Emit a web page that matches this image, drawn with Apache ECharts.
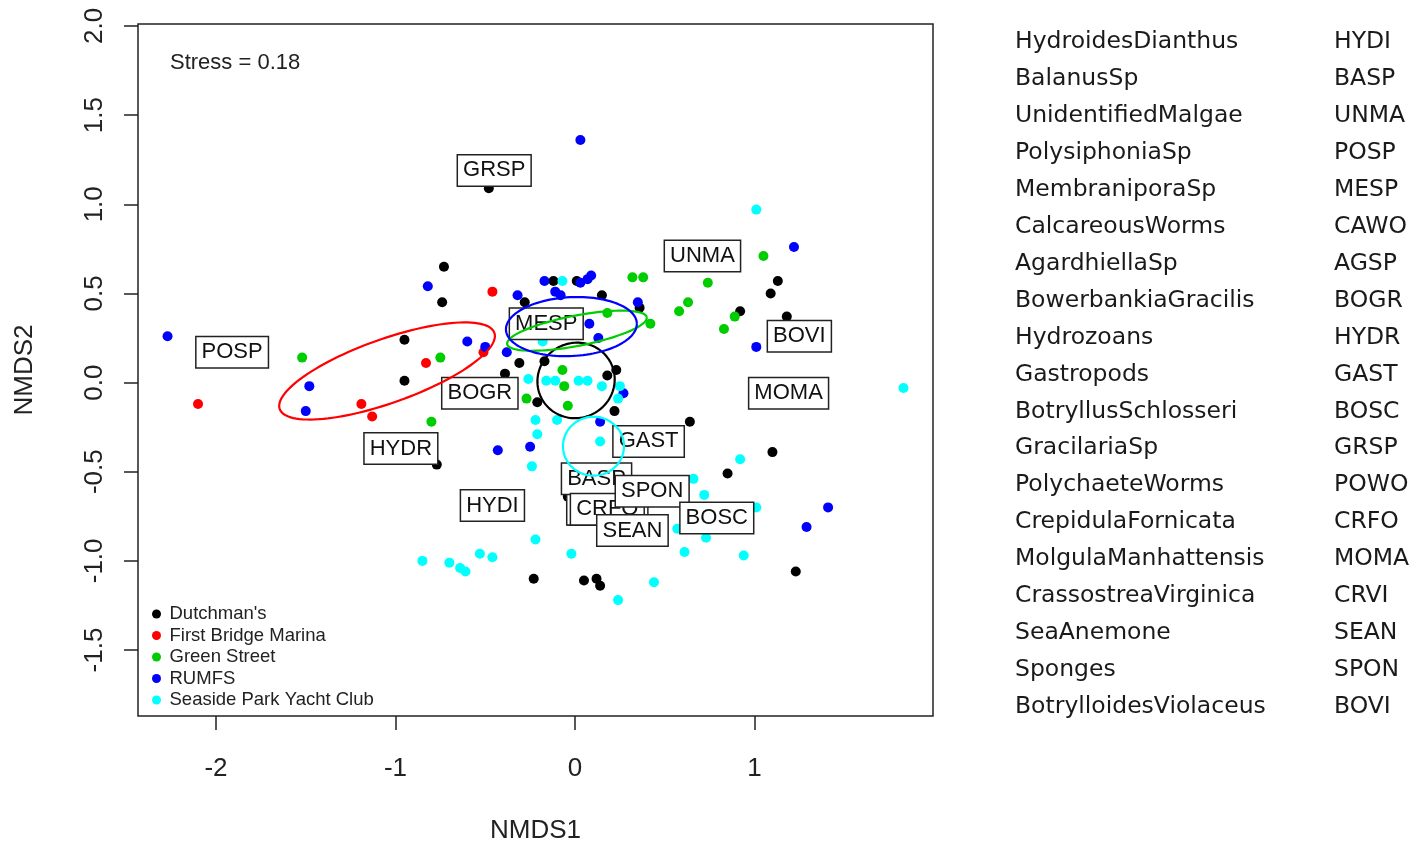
<!DOCTYPE html>
<html>
<head>
<meta charset="utf-8">
<script src="https://cdn.jsdelivr.net/npm/echarts@6/dist/echarts.min.js"></script>
<style>
html,body{margin:0;padding:0;background:#fff;}
#chart{width:1420px;height:849px;}
</style>
</head>
<body>
<div id="chart"></div>
<script>
// ---------- data ----------
const xTicks = [-2, -1, 0, 1];
const yTicks = [-1.5, -1.0, -0.5, 0.0, 0.5, 1.0, 1.5, 2.0];
const stressText = 'Stress = 0.18';

const groups = ["Dutchman's", "First Bridge Marina", "Green Street", "RUMFS", "Seaside Park Yacht Club"];

const dutchmans = [
  [-0.48, 1.09], [-0.73, 0.65], [-0.74, 0.45], [-0.95, 0.24], [-0.95, 0.01],
  [-0.28, 0.45], [-0.12, 0.57], [0.01, 0.57], [0.15, 0.49], [0.36, 0.42],
  [-0.31, 0.11], [-0.17, 0.12], [-0.39, 0.05], [-0.21, -0.11], [0.18, 0.04],
  [0.23, 0.07], [0.22, -0.16], [0.64, -0.22], [0.92, 0.40], [1.13, 0.57],
  [1.09, 0.50], [1.18, 0.37], [1.10, -0.39], [0.85, -0.51], [1.23, -1.06],
  [-0.77, -0.46], [-0.04, -0.64], [-0.23, -1.10], [0.05, -1.11], [0.12, -1.10],
  [0.14, -1.14]
];
const firstBridge = [
  [-2.10, -0.12], [-1.19, -0.12], [-1.13, -0.19], [-0.83, 0.11], [-0.46, 0.51], [-0.51, 0.17]
];
const greenStreet = [
  [-1.52, 0.14], [-0.75, 0.14], [-0.80, -0.22], [-0.27, -0.09], [-0.07, 0.07],
  [-0.06, -0.02], [-0.04, -0.13], [0.18, 0.39], [0.42, 0.33], [0.32, 0.59],
  [0.38, 0.59], [0.58, 0.40], [0.63, 0.45], [0.74, 0.56], [0.83, 0.30],
  [0.89, 0.37], [1.05, 0.71]
];
const rumfs = [
  [-2.27, 0.26], [-1.48, -0.02], [-1.50, -0.16], [-0.82, 0.54], [-0.60, 0.23],
  [-0.50, 0.20], [-0.32, 0.49], [-0.17, 0.57], [0.03, 0.56], [0.07, 0.58],
  [0.09, 0.60], [-0.11, 0.51], [-0.08, 0.49], [0.03, 1.36], [0.35, 0.45],
  [0.08, 0.33], [0.13, 0.25], [-0.38, 0.17], [0.27, -0.06], [0.14, -0.22],
  [-0.43, -0.38], [-0.25, -0.36], [1.01, 0.20], [1.22, 0.76], [1.41, -0.70],
  [1.29, -0.81]
];
const seaside = [
  [-0.07, 0.57], [-0.18, 0.23], [-0.26, 0.02], [-0.16, 0.01], [-0.11, 0.01],
  [0.02, 0.01], [0.07, 0.01], [0.15, -0.02], [0.25, -0.02], [0.24, -0.09],
  [-0.22, -0.21], [-0.10, -0.21], [-0.21, -0.29], [0.14, -0.33], [-0.24, -0.47],
  [1.01, 0.97], [1.83, -0.03], [0.92, -0.43], [0.66, -0.54], [0.72, -0.63],
  [1.01, -0.70], [0.73, -0.87], [0.61, -0.95], [0.94, -0.97], [0.57, -0.82],
  [-0.22, -0.88], [-0.02, -0.96], [-0.85, -1.00], [-0.70, -1.01], [-0.64, -1.04],
  [-0.61, -1.06], [-0.53, -0.96], [-0.46, -0.98], [0.44, -1.12], [0.24, -1.22]
];

// ellipse parameters per group: centre NMDS1, centre NMDS2, semi-axis a, semi-axis b, rotation (deg)
const ellipseParams = [
  [0.006, 0.012, 0.217, 0.210, 30],
  [-1.047, 0.065, 0.635, 0.179, 19.7],
  [0.011, 0.291, 0.396, 0.085, 11],
  [-0.020, 0.314, 0.365, 0.165, 3],
  [0.103, -0.357, 0.170, 0.165, 0]
];

// species scores (draw order)
const speciesLabelCodes = ['CAWO','AGSP','POWO','CRVI','GRSP','UNMA','POSP','MESP','BOVI','BOGR','MOMA','HYDR','GAST','HYDI','BASP','CRFO','SPON','SEAN','BOSC'];
const speciesLabelX = [0.18, 0.18, 0.18, 0.18, -0.45, 0.71, -1.91, -0.16, 1.25, -0.53, 1.19, -0.97, 0.41, -0.46, 0.12, 0.18, 0.43, 0.32, 0.79];
const speciesLabelY = [-0.71, -0.71, -0.71, -0.71, 1.19, 0.71, 0.17, 0.33, 0.26, -0.06, -0.06, -0.37, -0.33, -0.69, -0.54, -0.71, -0.61, -0.83, -0.76];

const speciesNames = ['HydroidesDianthus','BalanusSp','UnidentifiedMalgae','PolysiphoniaSp','MembraniporaSp','CalcareousWorms','AgardhiellaSp','BowerbankiaGracilis','Hydrozoans','Gastropods','BotryllusSchlosseri','GracilariaSp','PolychaeteWorms','CrepidulaFornicata','MolgulaManhattensis','CrassostreaVirginica','SeaAnemone','Sponges','BotrylloidesViolaceus'];
const speciesCodes = ['HYDI','BASP','UNMA','POSP','MESP','CAWO','AGSP','BOGR','HYDR','GAST','BOSC','GRSP','POWO','CRFO','MOMA','CRVI','SEAN','SPON','BOVI'];

// ---------- chart ----------
const colors = ['#000000', '#FF0000', '#00CD00', '#0000FF', '#00FFFF'];
const groupData = [dutchmans, firstBridge, greenStreet, rumfs, seaside];
const FONT = '"Liberation Sans", Arial, sans-serif';

const chart = echarts.init(document.getElementById('chart'), null, {renderer: 'canvas'});

const series = [];
groups.forEach((g, i) => {
  series.push({
    name: g,
    type: 'scatter',
    data: groupData[i],
    symbol: 'circle',
    symbolSize: 10,
    itemStyle: {color: colors[i], opacity: 1},
    z: 2,
    silent: true
  });
});

series.push({
  name: 'species',
  type: 'custom',
  data: speciesLabelCodes.map((c, i) => ({name: c, value: [speciesLabelX[i], speciesLabelY[i]]})),
  encode: {x: 0, y: 1},
  z: 3,
  silent: true,
  clip: false,
  renderItem: function (params, api) {
    const p = api.coord([api.value(0), api.value(1)]);
    return {
      type: 'text',
      x: p[0], y: p[1],
      z2: params.dataIndex,
      style: {
        text: speciesLabelCodes[params.dataIndex],
        font: '22px ' + FONT,
        fill: '#111',
        align: 'center',
        verticalAlign: 'middle',
        lineHeight: 24,
        backgroundColor: '#fff',
        borderColor: '#222',
        borderWidth: 1.5,
        padding: [3, 5, 3, 5]
      }
    };
  }
});

series.push({
  name: 'ellipses',
  type: 'custom',
  data: ellipseParams.map((p) => ({value: p})),
  encode: {x: 0, y: 1},
  z: 4,
  silent: true,
  clip: false,
  renderItem: function (params, api) {
    const cx = api.value(0), cy = api.value(1), a = api.value(2), b = api.value(3);
    const th = api.value(4) * Math.PI / 180;
    const pts = [];
    for (let k = 0; k <= 120; k++) {
      const t = k / 120 * Math.PI * 2;
      const x = cx + a * Math.cos(th) * Math.cos(t) - b * Math.sin(th) * Math.sin(t);
      const y = cy + a * Math.sin(th) * Math.cos(t) + b * Math.cos(th) * Math.sin(t);
      pts.push(api.coord([x, y]));
    }
    return {
      type: 'polyline',
      shape: {points: pts},
      style: {stroke: colors[params.dataIndex], fill: null, lineWidth: 2.2}
    };
  }
});

const graphics = [];
graphics.push({
  type: 'text', left: 170, top: 52,
  style: {text: stressText, font: '22px ' + FONT, fill: '#222'}
});
speciesNames.forEach((n, i) => {
  graphics.push({
    type: 'text', x: 1015, y: 42 + i * 36.94,
    style: {text: n, font: '23.5px "DejaVu Sans", sans-serif', fill: '#1a1a1a', textVerticalAlign: 'middle'}
  });
  graphics.push({
    type: 'text', x: 1334, y: 42 + i * 36.94,
    style: {text: speciesCodes[i], font: '23.5px "DejaVu Sans", sans-serif', fill: '#1a1a1a', textVerticalAlign: 'middle'}
  });
});

const option = {
  animation: false,
  backgroundColor: '#fff',
  grid: {
    left: 138, right: 487, top: 24, bottom: 131,
    show: true, borderColor: '#222', borderWidth: 1.5, backgroundColor: 'transparent'
  },
  xAxis: {
    type: 'value',
    position: 'bottom',
    min: -2.4345, max: 1.9945,
    splitLine: {show: false},
    axisLine: {show: false, onZero: false},
    axisTick: {show: true, inside: false, length: 14, customValues: xTicks, lineStyle: {color: '#222', width: 1.5}},
    axisLabel: {show: true, customValues: xTicks, margin: 40, fontSize: 26, fontFamily: FONT, color: '#222',
      formatter: v => String(v)},
    name: 'NMDS1', nameLocation: 'middle', nameGap: 102,
    nameTextStyle: {fontSize: 26, fontFamily: FONT, color: '#222'}
  },
  yAxis: {
    type: 'value',
    position: 'left',
    min: -1.870, max: 2.011,
    splitLine: {show: false},
    axisLine: {show: false, onZero: false},
    axisTick: {show: true, inside: false, length: 14, customValues: yTicks, lineStyle: {color: '#222', width: 1.5}},
    axisLabel: {show: true, customValues: yTicks, margin: 30, rotate: 90, fontSize: 26, fontFamily: FONT, color: '#222',
      formatter: v => v.toFixed(1)},
    name: 'NMDS2', nameLocation: 'middle', nameGap: 100, nameRotate: 90,
    nameTextStyle: {fontSize: 26, fontFamily: FONT, color: '#222'}
  },
  legend: {
    data: groups,
    orient: 'vertical',
    left: 152, top: 604,
    padding: 0,
    icon: 'circle',
    itemWidth: 10, itemHeight: 9,
    itemGap: 1.5,
    selectedMode: false,
    textStyle: {fontSize: 18.5, fontFamily: FONT, color: '#222', lineHeight: 20, padding: [0, 0, 0, 3]}
  },
  graphic: graphics,
  series: series
};
chart.setOption(option);
</script>
</body>
</html>
